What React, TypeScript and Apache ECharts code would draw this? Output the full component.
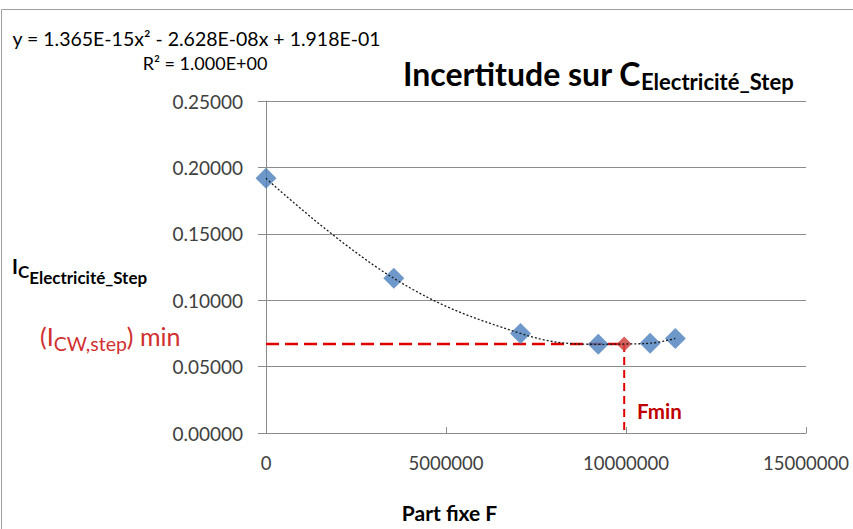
import React, { useEffect, useRef } from "react";
import * as echarts from "echarts";

// Data
const partFixe = [0, 3550000, 7070000, 9230000, 10670000, 11370000];
const incertitude = [0.1918, 0.1165, 0.075, 0.0668, 0.0676, 0.0712];
const fMin = 9950000;
const iMin = 0.067;

const xMin = 0;
const xMax = 15000000;
const xInterval = 5000000;
const yMin = 0;
const yMax = 0.25;
const yInterval = 0.05;

const equationText = "y = 1.365E-15x² - 2.628E-08x + 1.918E-01";
const r2Text = "R² = 1.000E+00";
const titleMain = "Incertitude sur C";
const titleSub = "Electricité_Step";
const xAxisName = "Part fixe F";

const FONT = "Lato, 'Open Sans', sans-serif";
const RED = "#e00000";

export default function App() {
  const ref = useRef<HTMLDivElement>(null);

  useEffect(() => {
    if (!ref.current) return;
    const chart = echarts.init(ref.current, null, { renderer: "svg" });

    const blue = partFixe.map((f, i) => [f, incertitude[i]]);
    const trend = [...blue, [fMin, iMin]].sort((a, b) => a[0] - b[0]);

    const option: any = {
      animation: false,
      backgroundColor: "#ffffff",
      grid: { left: 266, right: 47, top: 101, bottom: 96 },
      xAxis: {
        type: "value",
        min: xMin,
        max: xMax,
        interval: xInterval,
        axisLine: { show: true, onZero: false, lineStyle: { color: "#8c8c8c", width: 1 } },
        axisTick: { show: true, inside: true, length: 6, lineStyle: { color: "#8c8c8c" } },
        axisLabel: {
          color: "#404040",
          fontFamily: FONT,
          fontSize: 18.5,
          margin: 20,
          formatter: (v: number) => String(v),
        },
        splitLine: { show: false },
      },
      yAxis: {
        type: "value",
        min: yMin,
        max: yMax,
        interval: yInterval,
        axisLine: { show: true, lineStyle: { color: "#8c8c8c", width: 1 } },
        axisTick: { show: true, length: 8, lineStyle: { color: "#8c8c8c" } },
        axisLabel: {
          color: "#404040",
          fontFamily: FONT,
          fontSize: 19,
          margin: 23,
          formatter: (v: number) => v.toFixed(5),
        },
        splitLine: { show: true, lineStyle: { color: "#8c8c8c", width: 1 } },
      },
      series: [
        {
          type: "line",
          data: [[0, iMin], [fMin, iMin]],
          symbol: "none",
          silent: true,
          lineStyle: { color: RED, width: 2.5, type: [13, 6] },
          z: 2,
        },
        {
          type: "line",
          data: [[fMin, iMin], [fMin, 0]],
          symbol: "none",
          silent: true,
          lineStyle: { color: RED, width: 2, type: [8, 5] },
          z: 2,
        },
        {
          type: "scatter",
          data: blue,
          symbol: "diamond",
          symbolSize: 21,
          itemStyle: { color: "#4a7ebb" },
          z: 3,
        },
        {
          type: "scatter",
          data: [[fMin, iMin]],
          symbol: "diamond",
          symbolSize: 15,
          itemStyle: { color: "#d0443f", opacity: 0.85 },
          z: 4,
        },
        {
          type: "line",
          data: trend,
          smooth: 0.4,
          symbol: "none",
          silent: true,
          lineStyle: { color: "#1a1a1a", width: 1.3, type: [2, 2] },
          z: 5,
        },
      ],
      graphic: [
        {
          type: "rect",
          shape: { x: 1.5, y: 9.5, width: 900, height: 600 },
          style: { fill: "none", stroke: "#a0a0a0", lineWidth: 1 },
          silent: true,
        },
        {
          type: "text",
          x: 196.5,
          y: 38,
          style: {
            text: equationText,
            align: "center",
            verticalAlign: "middle",
            fontSize: 19.5,
            fontFamily: FONT,
            fill: "#000",
          },
        },
        {
          type: "text",
          x: 205,
          y: 63,
          style: {
            text: r2Text,
            align: "center",
            verticalAlign: "middle",
            fontSize: 18,
            fontFamily: FONT,
            fill: "#000",
          },
        },
        {
          type: "text",
          x: 403,
          y: 57.5,
          style: {
            text: "{a|" + titleMain + "}{b|" + titleSub + "}",
            align: "left",
            verticalAlign: "top",
            fill: "#000",
            rich: {
              a: { fontSize: 32, lineHeight: 32, fontWeight: "bold", fontFamily: FONT, fill: "#000", verticalAlign: "top" },
              b: { fontSize: 22, lineHeight: 22, fontWeight: "bold", fontFamily: FONT, fill: "#000", verticalAlign: "top", padding: [12.5, 0, 0, 0] },
            },
          },
        },
        {
          type: "text",
          x: 12,
          y: 256,
          style: {
            text: "{i|I}{c|C}{e|Electricité_Step}",
            align: "left",
            verticalAlign: "top",
            fill: "#000",
            rich: {
              i: { fontSize: 20, lineHeight: 20, fontWeight: "bold", fontFamily: FONT, fill: "#000", verticalAlign: "top" },
              c: { fontSize: 17, lineHeight: 17, fontWeight: "bold", fontFamily: FONT, fill: "#000", verticalAlign: "top", padding: [6.5, 0, 0, 0] },
              e: { fontSize: 17, lineHeight: 17, fontWeight: "bold", fontFamily: FONT, fill: "#000", verticalAlign: "top", padding: [12.5, 0, 0, 0] },
            },
          },
        },
        {
          type: "text",
          x: 40,
          y: 323,
          style: {
            text: "{a|(I}{b|CW,step}{a|) min}",
            align: "left",
            verticalAlign: "top",
            fill: "#d03030",
            rich: {
              a: { fontSize: 25, lineHeight: 25, fontFamily: FONT, fill: "#d03030", verticalAlign: "top" },
              b: { fontSize: 19.5, lineHeight: 19.5, fontFamily: FONT, fill: "#d03030", verticalAlign: "top", padding: [10, 0, 0, 0] },
            },
          },
        },
        {
          type: "text",
          x: 637,
          y: 411,
          style: {
            text: "Fmin",
            align: "left",
            verticalAlign: "middle",
            fontSize: 20.5,
            fontWeight: "bold",
            fontFamily: FONT,
            fill: "#c00000",
          },
        },
        {
          type: "text",
          x: 449.5,
          y: 512,
          style: {
            text: xAxisName,
            align: "center",
            verticalAlign: "middle",
            fontSize: 21,
            fontWeight: "bold",
            fontFamily: FONT,
            fill: "#000",
          },
        },
      ],
    };

    chart.setOption(option);
    return () => chart.dispose();
  }, []);

  return (
    <div
      ref={ref}
      style={{ position: "absolute", left: 0, top: 0, width: 853, height: 529 }}
    />
  );
}
